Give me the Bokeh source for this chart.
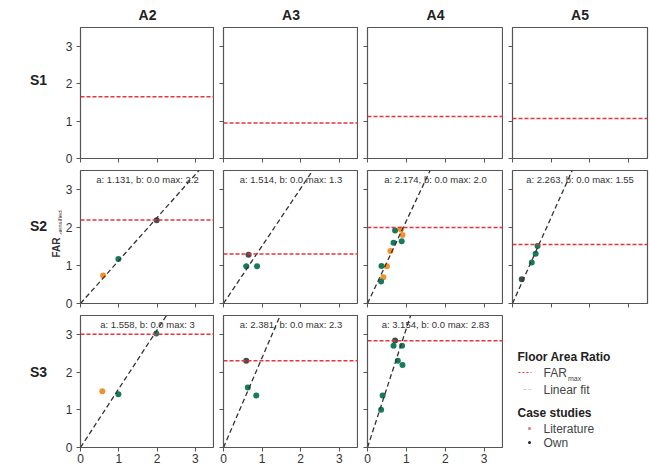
from bokeh.plotting import figure
from bokeh.layouts import gridplot
from bokeh.models import Span, Slope, Label, Range1d
from bokeh.core.properties import value
from bokeh.embed import file_html
from bokeh.resources import INLINE

# ---------------- data ----------------
columns = ["A2", "A3", "A4", "A5"]
rows = ["S1", "S2", "S3"]
ticks = [0, 1, 2, 3]
x_label = "FAR"
y_label = "FAR"
y_label_sub = "densified"

far_max_S1 = [1.65, 0.95, 1.12, 1.07]
far_max_S2 = [2.2, 1.3, 2.0, 1.55]
far_max_S3 = [3.0, 2.3, 2.83]
far_max_text_S2 = ["2.2", "1.3", "2.0", "1.55"]
far_max_text_S3 = ["3", "2.3", "2.83"]
fit_a_S2 = [1.131, 1.514, 2.174, 2.263]
fit_a_S3 = [1.558, 2.381, 3.154]
fit_b = 0.0

S2_A2_x = [0.59, 0.99, 1.99]
S2_A2_y = [0.74, 1.17, 2.19]
S2_A2_src = ["Literature", "Own", "Both"]

S2_A3_x = [0.65, 0.59, 0.87]
S2_A3_y = [1.28, 0.98, 0.98]
S2_A3_src = ["Both", "Own", "Own"]

S2_A4_x = [0.71, 0.86, 0.90, 0.88, 0.67, 0.59, 0.36, 0.50, 0.41, 0.35]
S2_A4_y = [1.92, 1.95, 1.80, 1.64, 1.60, 1.38, 0.99, 0.98, 0.69, 0.58]
S2_A4_src = ["Own", "Literature", "Literature", "Own", "Own", "Literature",
             "Own", "Literature", "Literature", "Own"]

S2_A5_x = [0.24, 0.50, 0.60, 0.65]
S2_A5_y = [0.64, 1.08, 1.31, 1.51]
S2_A5_src = ["Both", "Own", "Own", "Own"]

S3_A2_x = [0.57, 0.99, 1.98]
S3_A2_y = [1.49, 1.41, 3.02]
S3_A2_src = ["Literature", "Own", "Own"]

S3_A3_x = [0.59, 0.63, 0.85]
S3_A3_y = [2.30, 1.59, 1.38]
S3_A3_src = ["Both", "Own", "Own"]

S3_A4_x = [0.71, 0.67, 0.89, 0.78, 0.90, 0.39, 0.35]
S3_A4_y = [2.84, 2.70, 2.70, 2.30, 2.19, 1.38, 1.00]
S3_A4_src = ["Both", "Own", "Own", "Own", "Own", "Own", "Own"]

points = {
    ("S2", 0): (S2_A2_x, S2_A2_y, S2_A2_src),
    ("S2", 1): (S2_A3_x, S2_A3_y, S2_A3_src),
    ("S2", 2): (S2_A4_x, S2_A4_y, S2_A4_src),
    ("S2", 3): (S2_A5_x, S2_A5_y, S2_A5_src),
    ("S3", 0): (S3_A2_x, S3_A2_y, S3_A2_src),
    ("S3", 1): (S3_A3_x, S3_A3_y, S3_A3_src),
    ("S3", 2): (S3_A4_x, S3_A4_y, S3_A4_src),
}

# ---------------- style ----------------
FNAME = "Liberation Sans"
FONT = value(FNAME)
COLORS = {"Literature": "#f2922e", "Own": "#187a5c", "Both": "#3f4f48"}
RED = "#e8323c"
FRAME_C = "#555555"
TXT = "#333333"

STRIP_W = 62
col_left = [17, 9, 9, 9]
col_frame = [135, 135, 136, 135]
col_right = [0, 0, 0, 3]
row_top = [25, 3, 3]
row_frame = [133, 133, 132]
row_bottom = [9, 9, 19]
BOTTOM_STRIP_H = 3
XMAX = 3.5
YMAX = 3.5


def base_fig(w, h, left, right, top, bottom, xr, yr, axes=True):
    kw = dict(width=w, height=h, x_range=xr, y_range=yr,
              output_backend="svg", toolbar_location=None,
              min_border_left=left, min_border_right=right,
              min_border_top=top, min_border_bottom=bottom)
    if not axes:
        kw.update(x_axis_type=None, y_axis_type=None)
    p = figure(**kw)
    p.grid.visible = False
    p.background_fill_color = "white"
    p.border_fill_color = "white"
    if not axes:
        p.outline_line_color = None
    return p


def make_panel(r, c):
    p = base_fig(col_left[c] + col_frame[c] + col_right[c],
                 row_top[r] + row_frame[r] + row_bottom[r],
                 col_left[c], col_right[c], row_top[r], row_bottom[r],
                 Range1d(0, XMAX), Range1d(0, YMAX))
    p.outline_line_color = FRAME_C
    p.outline_line_width = 1.2
    for ax in (p.xaxis[0], p.yaxis[0]):
        ax.ticker = ticks
        ax.axis_line_color = None
        ax.major_tick_line_color = FRAME_C
        ax.major_tick_out = 4
        ax.major_tick_in = 0
        ax.minor_tick_line_color = None
        ax.major_label_text_font = FNAME
        ax.major_label_text_font_size = "12px"
        ax.major_label_text_color = TXT
    p.yaxis.major_label_standoff = 4
    p.xaxis.major_label_standoff = 2
    if r != 2:
        p.xaxis.major_label_text_font_size = "0px"
        p.xaxis.major_label_standoff = 0
    if c != 0:
        p.yaxis.major_label_text_font_size = "0px"
        p.yaxis.major_label_standoff = 0

    if r == 0:
        p.title.text = columns[c]
        p.title.align = "center"
        p.title.text_font = FNAME
        p.title.text_font_size = "14px"
        p.title.text_font_style = "bold"
        p.title.text_color = "#222222"
        p.title.standoff = 9

    row = rows[r]
    if row == "S1":
        fmax = far_max_S1[c]
    elif row == "S2":
        fmax = far_max_S2[c]
    else:
        fmax = far_max_S3[c]

    if row != "S1":
        a = fit_a_S2[c] if row == "S2" else fit_a_S3[c]
        ftxt = far_max_text_S2[c] if row == "S2" else far_max_text_S3[c]
        p.add_layout(Label(x=XMAX / 2, y=3.26,
                           text=f"a: {a}, b: {fit_b} max: {ftxt}",
                           text_font=FNAME, text_font_size="9.5px",
                           text_color=TXT, text_align="center",
                           text_baseline="middle"))
        xs, ys, src = points[(row, c)]
        cols_ = [COLORS[s] for s in src]
        p.scatter(x=xs, y=ys, size=6, fill_color=cols_, line_color=None)
        p.add_layout(Slope(gradient=a, y_intercept=fit_b, line_color="#333333",
                           line_dash="5 3", line_width=1.3))

    p.add_layout(Span(location=fmax, dimension="width", line_color=RED,
                      line_dash="4 2", line_width=1.5))
    return p


def make_strip(r):
    h = row_top[r] + row_frame[r] + row_bottom[r]
    s = base_fig(STRIP_W, h, 0, 0, row_top[r], row_bottom[r],
                 Range1d(0, STRIP_W),
                 Range1d(row_top[r] + row_frame[r], row_top[r]), axes=False)
    sy = [78, 58, 59][r]
    s.text(x=[38], y=[sy], text=[rows[r]], text_font=FONT, text_font_size="14px",
           text_font_style="bold", text_color="#222222", text_align="center",
           text_baseline="middle")
    if r == 1:
        s.text(x=[56], y=[90], text=[y_label], angle=1.5708, text_font=FONT,
               text_font_size="10px", text_font_style="bold", text_color=TXT,
               text_align="left", text_baseline="alphabetic")
        s.text(x=[60], y=[67], text=[y_label_sub], angle=1.5708, text_font=FONT,
               text_font_size="6px", text_color=TXT,
               text_align="left", text_baseline="alphabetic")
    return s


grid = []
for r in range(3):
    line = [make_strip(r)]
    for c in range(4):
        if r == 2 and c == 3:
            continue
        line.append(make_panel(r, c))
    grid.append(line)

# legend panel (bottom-right cell); ranges = local canvas pixels of its frame
LW = col_left[3] + col_frame[3] + col_right[3]
LH = row_top[2] + row_frame[2] + row_bottom[2]
leg = base_fig(LW, LH, col_left[3], col_right[3], row_top[2], row_bottom[2],
               Range1d(col_left[3], col_left[3] + col_frame[3]),
               Range1d(row_top[2] + row_frame[2], row_top[2]), axes=False)

leg_titles = ["Floor Area Ratio", "Case studies"]
leg.text(x=[14, 14], y=[44.5, 100], text=leg_titles, text_font=FONT,
         text_font_size="12px", text_font_style="bold", text_color="#222222",
         text_baseline="middle")
leg_labels = ["FAR", "Linear fit", "Literature", "Own"]
leg.text(x=[40, 40, 40, 40], y=[60, 77, 116, 130], text=leg_labels,
         text_font=FONT, text_font_size="12px", text_color="#444444",
         text_baseline="middle")
leg.text(x=[64.5], y=[66], text=["max"], text_font=FONT, text_font_size="7px",
         text_color="#444444", text_baseline="middle")
leg.line(x=[15, 28], y=[60, 60], line_color=RED, line_dash="2 2", line_width=1.2)
leg.line(x=[20, 30], y=[77, 77], line_color="#cccccc", line_dash="3 2", line_width=1)
leg.scatter(x=[26], y=[116], size=3, fill_color="#e8707a", line_color=None)
leg.scatter(x=[26], y=[130], size=3, fill_color="#222222", line_color=None)
grid[2].append(leg)

# thin bottom strip holding the (cropped) x-axis title under column A3
BW = col_left[1] + col_frame[1] + col_right[1]
bstrip = base_fig(BW, BOTTOM_STRIP_H, col_left[1], col_right[1], 0, 0,
                  Range1d(col_left[1], col_left[1] + col_frame[1]),
                  Range1d(BOTTOM_STRIP_H, 0), axes=False)
bstrip.text(x=[128], y=[-1], text=[x_label], text_font=FONT, text_font_size="12px",
            text_font_style="bold", text_color=TXT, text_align="center",
            text_baseline="top")
grid.append([None, None, bstrip, None, None])

layout = gridplot(grid, toolbar_location=None)

open("out.html", "w").write(file_html(layout, INLINE))
